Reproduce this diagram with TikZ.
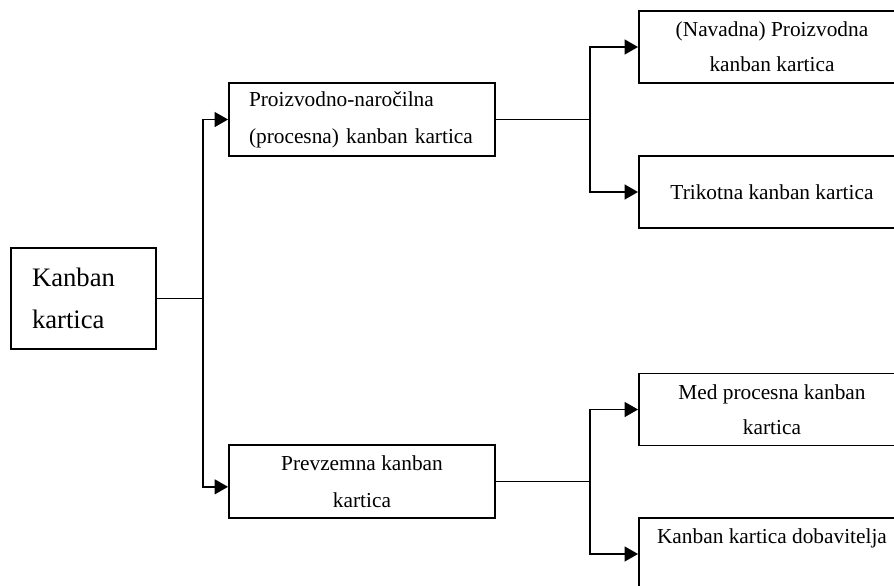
\documentclass[tikz,border=0pt]{standalone}
\usepackage{fontspec}
\setmainfont{Liberation Serif}
\usetikzlibrary{positioning,arrows.meta}
\tikzset{
  flowarrow/.style={-{Triangle[length=10pt,width=11pt]}, line width=1.4pt},
  link/.style={line width=1.4pt},
  rootbox/.style={draw, line width=1.4pt, minimum width=108.75pt, minimum height=75.75pt, text width=77.25pt, inner xsep=15.75pt, align=left, font=\fontsize{20}{32}\selectfont},
  midbox/.style={draw, line width=1.4pt, minimum width=199.5pt, minimum height=54.75pt, align=center, font=\fontsize{16}{27.75}\selectfont},
  leafbox/.style={draw, line width=1.4pt, minimum width=199.5pt, minimum height=54pt, align=center, font=\fontsize{16}{26.25}\selectfont}
}

\begin{document}
\begin{tikzpicture}[x=0.75pt, y=-0.75pt]
  \useasboundingbox (0,0) rectangle (894,586);
  \clip (0,0) rectangle (894,586);
  \node[rootbox] (kanban) at (83.5,298.5) {Kanban\\kartica};
  \node[midbox, text width=169.5pt, inner xsep=15pt, align=left] (proc) at (362,119.5) {Proizvodno-naročilna\\(procesna) kanban kartica};
  \node[midbox] (prev) at (362,481.5) {Prevzemna kanban\\kartica};
  \node[leafbox] (navadna) at (772,47) {(Navadna) Proizvodna\\kanban kartica};
  \node[leafbox] (trikotna) at (772,192) {Trikotna kanban kartica};
  \node[leafbox] (medproc) at (772,409.5) {Med procesna kanban\\kartica};
  \node[leafbox] (dobav) at (772,554) {Kanban kartica dobavitelja\\ \mbox{}};
  \coordinate (split0) at (203,298.5);
  \coordinate (split1) at (590,119.5);
  \coordinate (split2) at (590,481.5);
  \draw[link] (kanban) -- (split0);
  \draw[flowarrow] (split0) |- (proc);
  \draw[flowarrow] (split0) |- ([yshift=-4pt]prev.west);
  \draw[link] (proc) -- (split1);
  \draw[flowarrow] (split1) |- (navadna);
  \draw[flowarrow] (split1) |- (trikotna);
  \draw[link] (prev) -- (split2);
  \draw[flowarrow] (split2) |- (medproc);
  \draw[flowarrow] (split2) |- (dobav);
\end{tikzpicture}
\end{document}
